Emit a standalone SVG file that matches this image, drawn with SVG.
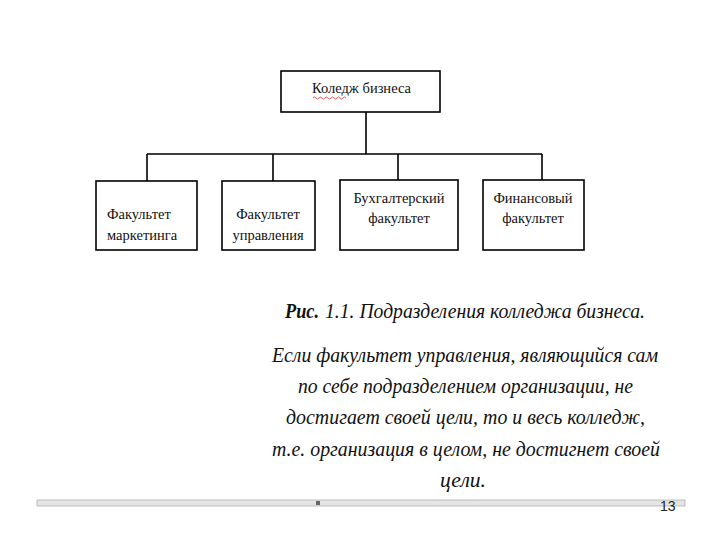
<svg xmlns="http://www.w3.org/2000/svg" width="720" height="540" viewBox="0 0 720 540">
<style>
.box{fill:#fff;stroke:#000;stroke-width:1.6}
.conn{fill:none;stroke:#000;stroke-width:1.6}
.bt{font-family:"Liberation Serif",serif;font-size:14.5px;fill:#111}
.cap{font-family:"Liberation Serif",serif;font-style:italic;font-size:22px;fill:#111}
</style>
<rect width="720" height="540" fill="#fff"/>
<g id="connectors">
<path class="conn" d="M366,112 V154 M147,154 H542 M147,154 V181 M273,154 V181 M398,154 V180 M542,154 V180"/>
</g>
<g id="root">
<rect class="box" x="281" y="71" width="159" height="41"/>
<text class="bt" x="312" y="93">Коледж бизнеса</text>
<path d="M313,98 q1.5,-2 3,0 t3,0 t3,0 t3,0 t3,0 t3,0 t3,0 t3,0 t3,0 t3,0 t3,0" fill="none" stroke="#e03030" stroke-width="0.8"/>
</g>
<g id="marketing">
<rect class="box" x="96" y="181" width="101" height="69"/>
<text class="bt" x="107" y="219">Факультет</text>
<text class="bt" x="107" y="240">маркетинга</text>
</g>
<g id="management">
<rect class="box" x="222" y="181" width="93" height="69"/>
<text class="bt" x="268" y="219" text-anchor="middle">Факультет</text>
<text class="bt" x="268" y="240" text-anchor="middle">управления</text>
</g>
<g id="accounting">
<rect class="box" x="340" y="180" width="118" height="70"/>
<text class="bt" x="399" y="203" text-anchor="middle">Бухгалтерский</text>
<text class="bt" x="399" y="223" text-anchor="middle">факультет</text>
</g>
<g id="finance">
<rect class="box" x="483" y="180" width="101" height="70"/>
<text class="bt" x="533" y="203" text-anchor="middle">Финансовый</text>
<text class="bt" x="533" y="223" text-anchor="middle">факультет</text>
</g>
<g id="caption">
<text class="cap" x="285" y="318" font-weight="bold" textLength="34" lengthAdjust="spacingAndGlyphs">Рис.</text>
<text class="cap" x="325" y="318" textLength="320" lengthAdjust="spacingAndGlyphs">1.1. Подразделения колледжа бизнеса.</text>
<text class="cap" x="272" y="362" textLength="386" lengthAdjust="spacingAndGlyphs">Если факультет управления, являющийся сам</text>
<text class="cap" x="298" y="393" textLength="335" lengthAdjust="spacingAndGlyphs">по себе подразделением организации, не</text>
<text class="cap" x="286" y="424" textLength="359" lengthAdjust="spacingAndGlyphs">достигает своей цели, то и весь колледж,</text>
<text class="cap" x="272" y="456" textLength="388" lengthAdjust="spacingAndGlyphs">т.е. организация в целом, не достигнет своей</text>
<text class="cap" x="440" y="487" textLength="46" lengthAdjust="spacingAndGlyphs">цели.</text>
</g>
<g id="footer">
<rect x="37" y="500" width="648" height="6" fill="#e4e4e4" stroke="#b0b0b0" stroke-width="0.8"/>
<rect x="316" y="501" width="4" height="4" fill="#666"/>
<text x="660" y="511" font-family="Liberation Sans,sans-serif" font-size="14" fill="#222">13</text>
</g>
</svg>
